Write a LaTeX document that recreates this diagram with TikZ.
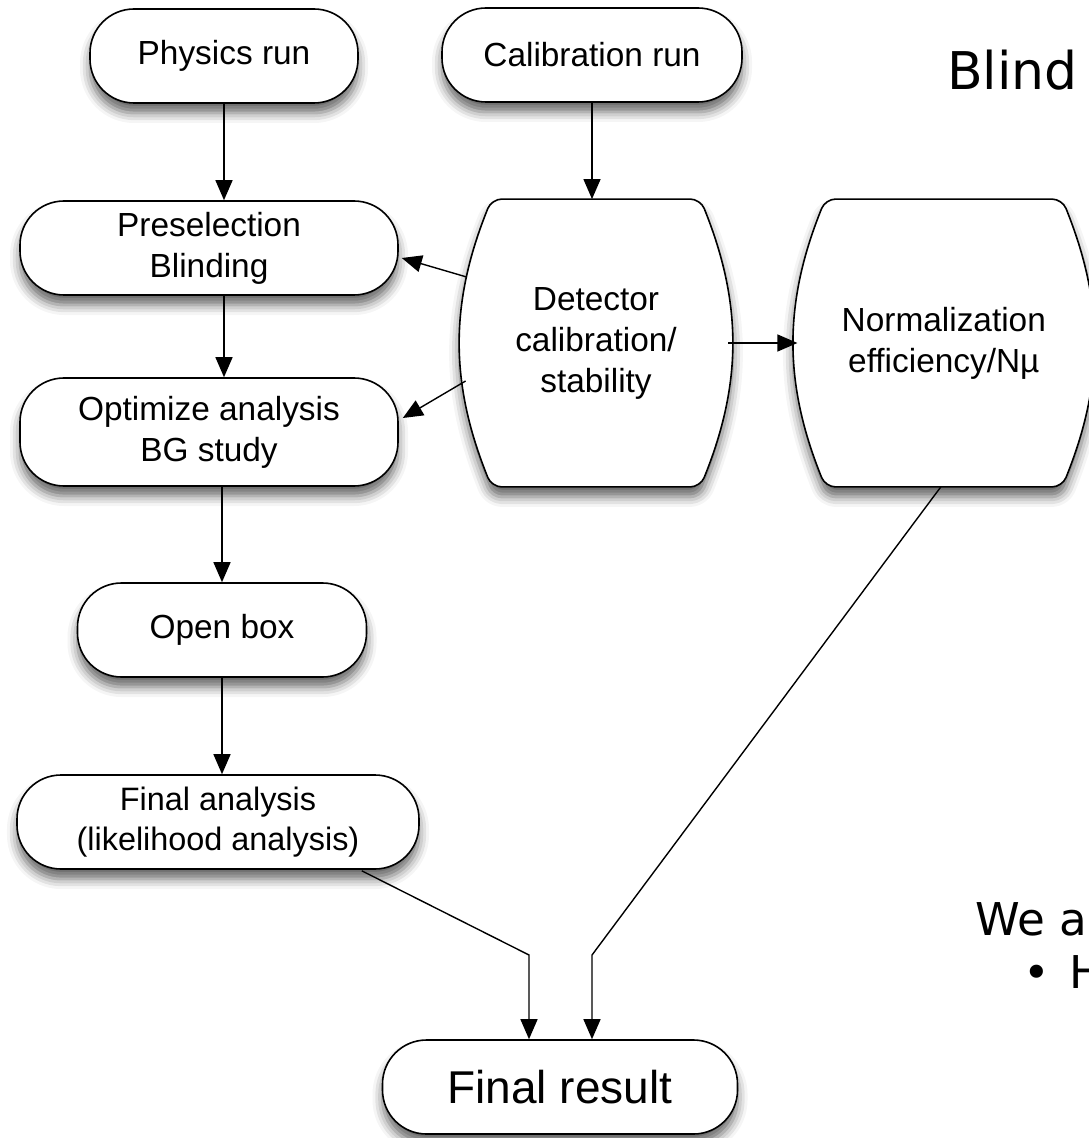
\documentclass[tikz,border=0pt]{standalone}
\usepackage{fontspec}
\setmainfont{Liberation Sans}
\newfontfamily\slidefont{DejaVu Sans}
\usetikzlibrary{positioning,arrows.meta,backgrounds,shadows.blur}

\begin{document}
\begin{tikzpicture}
[x=0.5pt,y=-0.5pt,
 shade/.style={blur shadow={shadow xshift=0pt,shadow yshift=-5pt,shadow blur radius=5pt,shadow opacity=60}},
 stadium/.style={draw,fill=white,line width=0.8pt,rounded corners=22pt,minimum height=47pt,
   align=center,font=\fontsize{16.7}{20.5}\selectfont,shade},
 barreltext/.style={minimum height=143.5pt,align=center,font=\fontsize{16.7}{20.5}\selectfont},
 barrelline/.style={draw,fill=white,line width=0.8pt,rounded corners=5pt,shade},
 arr/.style={-{Triangle[length=10pt,width=8.5pt]},line width=0.7pt}]
\useasboundingbox (0,0) rectangle (1088,1138);
\node[stadium,minimum width=134pt](phys) at (224,56){Physics run};
\node[stadium,minimum width=150pt](calib) at (592,55){Calibration run};
\node[stadium,minimum width=189pt](pre) at (209,248){Preselection\\Blinding};
\node[stadium,minimum width=189pt,minimum height=54pt](opt) at (209,432){Optimize analysis\\BG study};
\node[stadium,minimum width=144.5pt](open) at (222,630){Open box};
\node[stadium,minimum width=201pt,font=\fontsize{16.2}{20}\selectfont](fin) at (218,822){Final analysis\\(likelihood analysis)};
\node[stadium,minimum width=177.5pt,font=\fontsize{23}{26}\selectfont](res) at (560,1087){Final result};
\node[barreltext,minimum width=132pt](det) at (596,343){Detector\\calibration/\\stability};
\node[barreltext,minimum width=146pt,right=34.5pt of det](norm){Normalization\\efficiency/Nµ};
% barrel outlines behind the texts
\begin{scope}[on background layer]
\foreach \n in {det,norm}
  \draw[barrelline] (\n.north) -- ([xshift=-14pt]\n.north east)
    to[out=-68,in=68] ([xshift=-14pt]\n.south east) -- ([xshift=14pt]\n.south west)
    to[out=112,in=-112] ([xshift=14pt]\n.north west) -- cycle;
\end{scope}
\coordinate (ljoin) at (529,955);
\coordinate (rjoin) at (592,955);
\draw[arr] (phys.south) -- (phys.south |- pre.north);
\draw[arr] (calib.south) -- (calib.south |- det.north);
\draw[arr] (phys.south |- pre.south) -- (phys.south |- opt.north);
\draw[arr] (open.north |- opt.south) -- (open.north);
\draw[arr] (open.south) -- (open.south |- fin.north);
\draw[arr] ([shift={(3,-66)}]det.west) -- ([shift={(3,10)}]pre.east);
\draw[arr] ([shift={(2,38)}]det.west) -- ([shift={(4,-14)}]opt.east);
\draw[arr] (det.east) -- (norm.west);
\draw[arr] ([shift={(-58,1)}]fin.south east) -- (ljoin) -- (ljoin |- res.north);
\draw[arr] ([xshift=-1.5pt]norm.south) -- (rjoin) -- (rjoin |- res.north);
% slide text around the chart
\node[anchor=base west,font=\slidefont\fontsize{26}{30}\selectfont](blind) at (940,90){Blind};
\node[anchor=base west,font=\slidefont\fontsize{22.6}{27}\selectfont](wea) at (968,935){We a};
\node[anchor=base west,font=\slidefont\fontsize{22.6}{27}\selectfont](bul) at (1016,988){•\hspace{10pt}H};
\end{tikzpicture}
\end{document}
